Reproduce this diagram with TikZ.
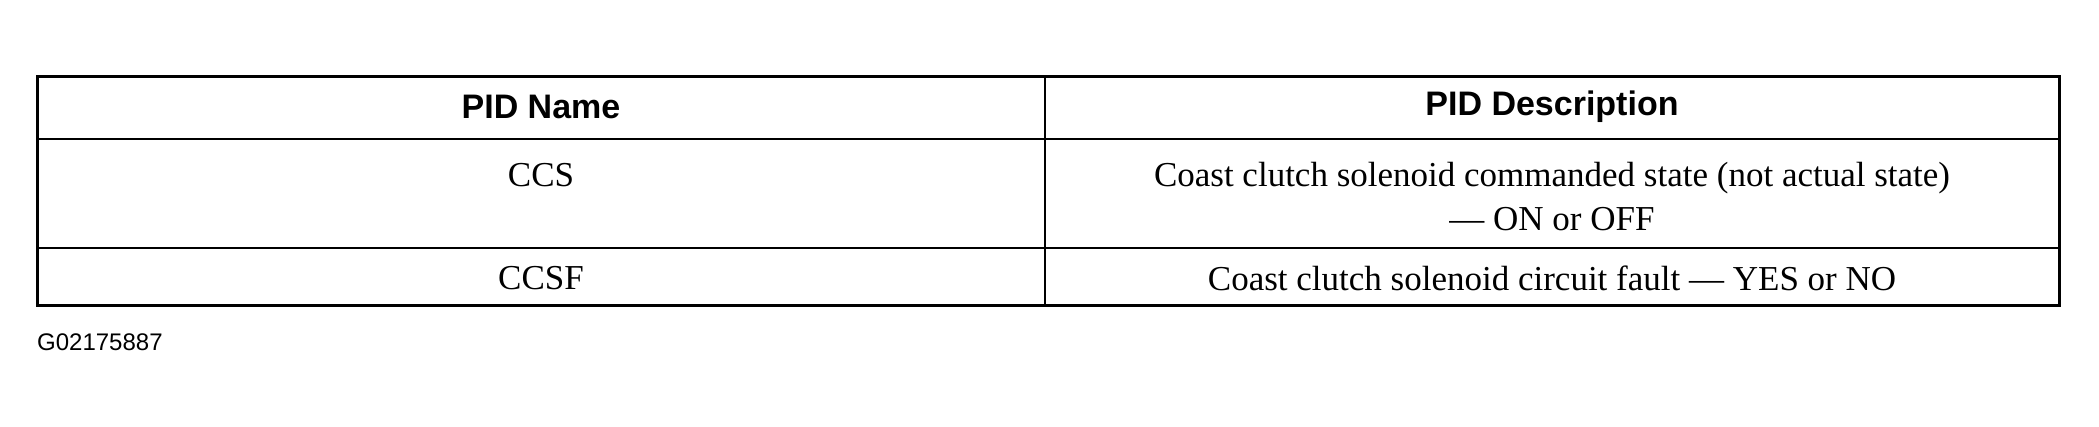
\documentclass[tikz,border=0pt]{standalone}
\usepackage{fontspec}
\setmainfont{Liberation Serif}
\setsansfont{Liberation Sans}
\begin{document}
\begin{tikzpicture}[x=1pt,y=-1pt,
  hd/.style={font=\sffamily\bfseries\fontsize{34}{40}\selectfont,inner sep=0},
  bd/.style={font=\fontsize{35}{44}\selectfont,inner sep=0,align=center},
  frame/.style={line width=3pt},
  rule/.style={line width=2pt}]
\useasboundingbox (0,0) rectangle (2099,426);
\fill[white] (0,0) rectangle (2099,426);
\coordinate (tl) at (37,76);
\coordinate (br) at (2059,305);
\draw[rule] (37,139) -- (2059,139);
\draw[rule] (37,248) -- (2059,248);
\draw[rule] (1045,76) -- (1045,305);
\draw[frame] (tl) rectangle (br);
\node[hd] (h1) at (541,107) {PID Name};
\node[hd] (h2) at (1552,107) {PID Description};
\node[bd] (n1) at (541,175) {CCS};
\node[bd] (d1) at (1552,197) {Coast clutch solenoid commanded state (not actual state)\\— ON or OFF};
\node[bd] (n2) at (541,278) {CCSF};
\node[bd] (d2) at (1552,278) {Coast clutch solenoid circuit fault — YES or NO};
\node[font=\sffamily\fontsize{24}{28}\selectfont,anchor=west,inner sep=0] (g) at (37,342) {G02175887};
\end{tikzpicture}
\end{document}
